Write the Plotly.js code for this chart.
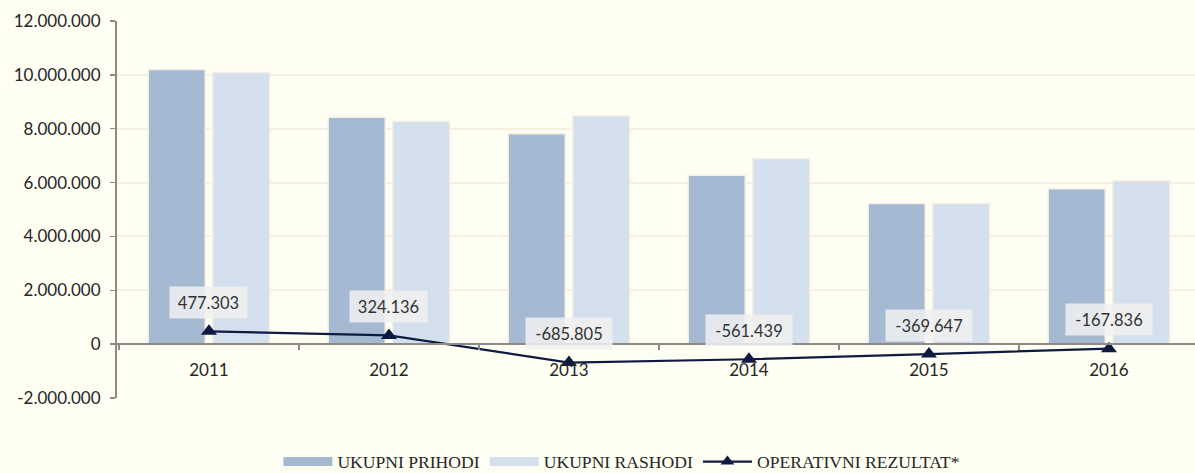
<!DOCTYPE html>
<html>
<head>
<meta charset="utf-8">
<script src="https://cdn.plot.ly/plotly-3.0.1.min.js"></script>
<style>html,body{margin:0;padding:0;background:#FFFEF3;}#chart{width:1195px;height:473px;}</style>
</head>
<body>
<div id="chart"></div>
<script>
const years = ['2011', '2012', '2013', '2014', '2015', '2016'];
const prihodi = [10200000, 8430000, 7810000, 6270000, 5220000, 5770000];
const rashodi = [10090000, 8280000, 8480000, 6890000, 5220000, 6070000];
const rezultat = [477303, 324136, -685805, -561439, -369647, -167836];
const yTickVals = [-2000000, 0, 2000000, 4000000, 6000000, 8000000, 10000000, 12000000];
const yTickText = ['-2.000.000', '0', '2.000.000', '4.000.000', '6.000.000', '8.000.000', '10.000.000', '12.000.000'];
const seriesNames = ['UKUPNI PRIHODI', 'UKUPNI RASHODI', 'OPERATIVNI REZULTAT*'];

function fmt(v) {
  const s = Math.abs(Math.round(v)).toString().replace(/\B(?=(\d{3})+(?!\d))/g, '.');
  return (v < 0 ? '-' : '') + s;
}

const sansFont = 'Lato, "Liberation Sans", sans-serif';
const serifFont = '"Liberation Serif", "DejaVu Serif", serif';
const colP = '#A6B9D3', colR = '#D5E0EE', colL = '#0E1A42';

const data = [
  {
    type: 'bar', name: seriesNames[0], x: years, y: prihodi, showlegend: false,
    marker: {color: colP, line: {color: '#F6EFE6', width: 1.5}},
    hoverinfo: 'skip'
  },
  {
    type: 'bar', name: seriesNames[1], x: years, y: rashodi, showlegend: false,
    marker: {color: colR, line: {color: '#F6EFE6', width: 1.5}},
    hoverinfo: 'skip'
  },
  {
    type: 'scatter', mode: 'lines+markers', name: seriesNames[2], x: years, y: rezultat,
    showlegend: false,
    line: {color: colL, width: 2.2},
    marker: {symbol: 'triangle-up', size: 14, color: colL},
    hoverinfo: 'skip'
  },
  // legend entries
  {type: 'scatter', mode: 'lines', name: seriesNames[0], x: [null], y: [null],
   line: {color: colP, width: 9}, hoverinfo: 'skip'},
  {type: 'scatter', mode: 'lines', name: seriesNames[1], x: [null], y: [null],
   line: {color: colR, width: 9}, hoverinfo: 'skip'},
  {type: 'scatter', mode: 'lines+markers', name: seriesNames[2], x: [null], y: [null],
   line: {color: colL, width: 2.2}, marker: {symbol: 'triangle-up', size: 12, color: colL}, hoverinfo: 'skip'}
];

const annotations = rezultat.map((v, i) => {
  const t = fmt(v);
  return {
    x: i, y: v, xref: 'x', yref: 'y',
    text: t, showarrow: false,
    xanchor: 'center', yanchor: 'middle', yshift: 29,
    width: t.length * 9 + 2, height: 19,
    font: {family: sansFont, size: 16.5, color: '#333333'},
    bgcolor: 'rgba(240,240,240,0.85)', borderpad: 6
  };
});

const layout = {
  width: 1195, height: 473,
  margin: {l: 117, r: 0, t: 21, b: 75},
  paper_bgcolor: '#FFFEF3', plot_bgcolor: '#FFFEF3',
  barmode: 'group', bargap: 0.283, bargroupgap: 0.116,
  showlegend: true,
  legend: {
    orientation: 'h', xref: 'container', yref: 'container',
    x: 0.5204, xanchor: 'center', y: 0.024, yanchor: 'middle',
    font: {family: serifFont, size: 17.6, color: '#262626'},
    bgcolor: 'rgba(0,0,0,0)', traceorder: 'normal', itemwidth: 49
  },
  xaxis: {
    type: 'category', range: [-0.511, 5.478],
    anchor: 'free', position: 2 / 14,
    showline: true, linecolor: '#8F8A88', linewidth: 2,
    ticks: 'outside', tickson: 'boundaries', ticklen: 5, tickcolor: '#8F8A88', tickwidth: 1.5,
    ticklabelstandoff: 10,
    showgrid: false, zeroline: false,
    tickfont: {family: sansFont, size: 17, color: '#262626'}
  },
  yaxis: {
    range: [-2000000, 12000000],
    tickvals: yTickVals, ticktext: yTickText,
    showline: true, linecolor: '#8F8A88', linewidth: 2,
    ticks: 'outside', ticklen: 5, tickcolor: '#8F8A88', tickwidth: 1.5,
    ticklabelstandoff: 6,
    showgrid: true, gridcolor: '#F6EFE4', gridwidth: 2,
    zeroline: false,
    tickfont: {family: sansFont, size: 17, color: '#262626'}
  },
  annotations: annotations
};

Plotly.newPlot('chart', data, layout, {displayModeBar: false, staticPlot: true});
</script>
</body>
</html>
